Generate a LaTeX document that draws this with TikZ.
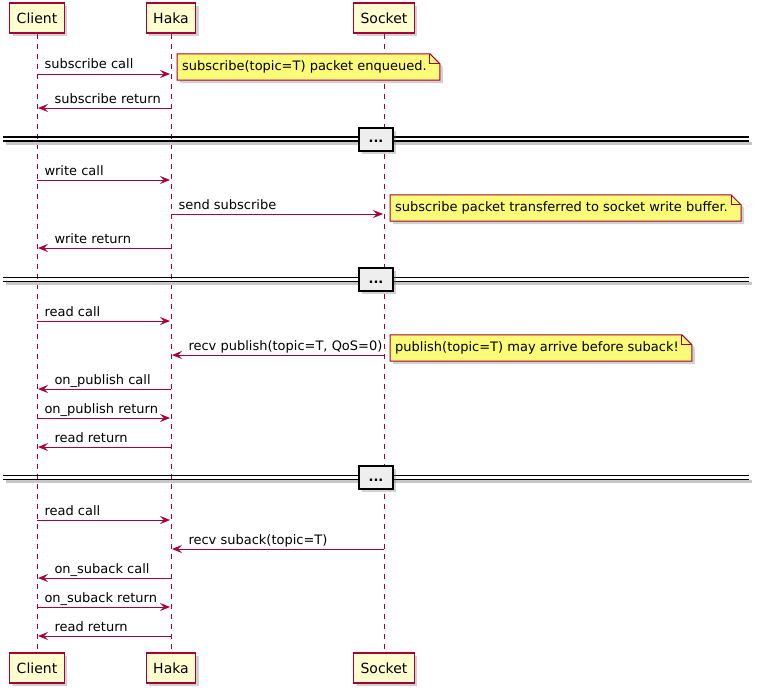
\documentclass[tikz,border=0pt]{standalone}
\usepackage{fontspec}
\setmainfont{DejaVu Sans}
\usetikzlibrary{arrows.meta, positioning, shadows, backgrounds}
\definecolor{umlred}{HTML}{A80036}
\definecolor{umlfill}{HTML}{FEFECE}
\definecolor{notefill}{HTML}{FBFB77}
\definecolor{divfill}{HTML}{EEEEEE}
\newcommand{\msgfont}{\fontsize{13}{15}\selectfont}
\tikzset{
  umlshadow/.style={drop shadow={shadow xshift=3pt, shadow yshift=-3pt, opacity=0.3, fill=black!60}},
  participant/.style={draw=umlred, line width=1.3pt, fill=umlfill, minimum height=30pt,
    inner xsep=7pt, font=\fontsize{14}{16}\selectfont, umlshadow},
  lifeline/.style={umlred, line width=1pt, dash pattern=on 5pt off 5pt},
  msg/.style={umlred, line width=1pt, -{Stealth[length=10pt, width=8pt, inset=4pt]}, shorten >=1pt},
  lblr/.style={pos=0, anchor=base west, inner sep=0pt, xshift=7pt, yshift=5pt, text=black, font=\msgfont},
  lbll/.style={pos=1, anchor=base west, inner sep=0pt, xshift=17pt, yshift=5pt, text=black, font=\msgfont},
  notetext/.style={inner xsep=5pt, inner ysep=0pt, minimum height=26pt, font=\msgfont},
  noteshape/.style={draw=umlred, line width=1pt, fill=notefill, umlshadow},
  divbox/.style={draw=black, line width=2pt, fill=divfill, minimum width=34pt, minimum height=23pt,
    text height=10pt, text depth=3pt, font=\msgfont\bfseries, umlshadow},
  divline/.style={black, line width=1.5pt},
  divshade/.style={black!22, line width=3pt},
}
% note body + folded corner, drawn under the note text
\newcommand{\notebg}[1]{%
  \begin{pgfonlayer}{background}
  \path[noteshape] (#1.north west) -- ([xshift=-2pt]#1.north east)
    -- ([xshift=8pt,yshift=-10pt]#1.north east) -- ([xshift=8pt]#1.south east)
    -- (#1.south west) -- cycle;
  \draw[umlred, line width=1pt] ([xshift=-2pt]#1.north east)
    -- ([xshift=-2pt,yshift=-10pt]#1.north east) -- ([xshift=8pt,yshift=-10pt]#1.north east);
  \end{pgfonlayer}}
% divider "..." across the whole width
\newcommand{\divider}[2]{%
  \draw[divshade] (6,#2+4) -- (752,#2+4);
  \draw[divline] (3,#2-2) -- (749,#2-2);
  \draw[divline] (3,#2+2) -- (749,#2+2);
  \node[divbox] (#1) at (376,#2) {...};}

\begin{document}
\begin{tikzpicture}[x=1pt, y=-1pt]
  \useasboundingbox (0,0) rectangle (760,693);

  % participants
  \node[participant] (cl) at (37,18) {Client};
  \node[participant] (hk) at (171,18) {Haka};
  \node[participant] (sk) at (384,18) {Socket};
  \node[participant] (clb) at (37,668) {Client};
  \node[participant] (hkb) at (171,668) {Haka};
  \node[participant] (skb) at (384,668) {Socket};

  \begin{pgfonlayer}{background}
    \draw[lifeline] (cl) -- (clb);
    \draw[lifeline] (hk) -- (hkb);
    \draw[lifeline] (sk) -- (skb);
  \end{pgfonlayer}

  % subscribe
  \draw[msg] (cl |- 0,74) -- node[lblr] {subscribe call} (hk |- 0,74);
  \node[notetext, right=6pt] (n1) at (hk |- 0,67) {subscribe(topic=T) packet enqueued.};
  \notebg{n1}
  \draw[msg] (hk |- 0,108) -- node[lbll] {subscribe return} (cl |- 0,108);

  \divider{dv1}{139}

  % write
  \draw[msg] (cl |- 0,180) -- node[lblr] {write call} (hk |- 0,180);
  \draw[msg] (hk |- 0,214) -- node[lblr] {send subscribe} (sk |- 0,214);
  \node[notetext, right=6pt] (n2) at (sk |- 0,208) {subscribe packet transferred to socket write buffer.};
  \notebg{n2}
  \draw[msg] (hk |- 0,248) -- node[lbll] {write return} (cl |- 0,248);

  \divider{dv2}{279.5}

  % read, publish first
  \draw[msg] (cl |- 0,321) -- node[lblr] {read call} (hk |- 0,321);
  \draw[msg] (sk |- 0,355) -- node[lbll] {recv publish(topic=T, QoS=0)} (hk |- 0,355);
  \node[notetext, right=6pt] (n3) at (sk |- 0,348) {publish(topic=T) may arrive before suback!};
  \notebg{n3}
  \draw[msg] (hk |- 0,389) -- node[lbll] {on\_publish call} (cl |- 0,389);
  \draw[msg] (cl |- 0,418) -- node[lblr] {on\_publish return} (hk |- 0,418);
  \draw[msg] (hk |- 0,447) -- node[lbll] {read return} (cl |- 0,447);

  \divider{dv3}{477.5}

  % read, suback
  \draw[msg] (cl |- 0,520) -- node[lblr] {read call} (hk |- 0,520);
  \draw[msg] (sk |- 0,549) -- node[lbll] {recv suback(topic=T)} (hk |- 0,549);
  \draw[msg] (hk |- 0,578) -- node[lbll] {on\_suback call} (cl |- 0,578);
  \draw[msg] (cl |- 0,607) -- node[lblr] {on\_suback return} (hk |- 0,607);
  \draw[msg] (hk |- 0,636) -- node[lbll] {read return} (cl |- 0,636);
\end{tikzpicture}
\end{document}
